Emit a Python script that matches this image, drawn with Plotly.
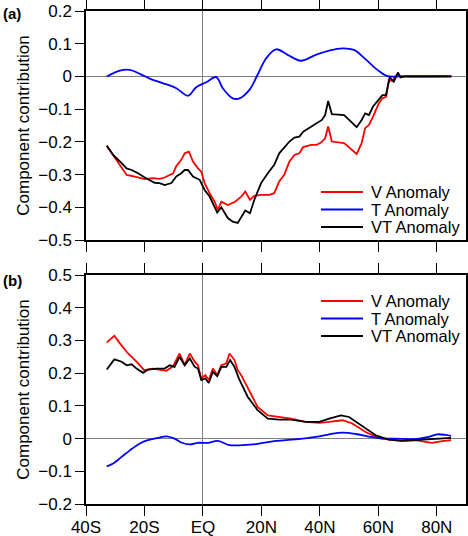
import plotly.graph_objects as go

# latitude in degrees (negative = south)

# panel (a)
a_v_lat = [-32.9, -30.1, -28.4, -26.1, -23.3, -19.9, -17.05, -14.8, -13.1, -11.4,
           -10.2, -9.1, -7.4, -6.25, -4.8, -3.4, -1.7, -0.55, 0.57, 2.3, 4.0, 5.1,
           6.3, 8.5, 11.0, 13.0, 14.5, 16.1, 17.6, 19.9, 22.7, 24.4, 26.1, 27.8,
           29.6, 31.3, 33.0, 34.3, 37.0, 38.9, 40.4, 41.8, 42.85, 44.1, 48.3,
           52.6, 54.3, 55.5, 56.8, 58.2, 60.2, 61.4, 62.7, 63.6, 64.8, 65.9,
           67.1, 85.0]
a_v = [-0.212, -0.250, -0.270, -0.301, -0.306, -0.314, -0.311, -0.313, -0.309, -0.301,
       -0.296, -0.274, -0.255, -0.235, -0.230, -0.260, -0.281, -0.291, -0.326, -0.357,
       -0.383, -0.408, -0.383, -0.393, -0.383, -0.368, -0.352, -0.377, -0.365, -0.362,
       -0.362, -0.357, -0.321, -0.301, -0.260, -0.240, -0.235, -0.216, -0.209, -0.209,
       -0.202, -0.189, -0.153, -0.199, -0.204, -0.237, -0.204, -0.158, -0.148, -0.123,
       -0.082, -0.067, -0.062, -0.011, -0.014, 0.001, 0.0, 0.0]

a_t_lat = [-32.9, -28.4, -25.0, -21.6, -17.6, -13.6, -9.1, -5.1, -2.3, 1.1, 4.55,
           6.8, 10.2, 12.5, 15.9, 18.7, 21.6, 25.0, 29.0, 33.5, 38.6, 43.2, 47.7,
           51.7, 55.7, 59.7, 63.1, 67.0, 85.0]
a_t = [0.0, 0.018, 0.020, 0.008, -0.009, -0.021, -0.036, -0.059, -0.033, -0.018,
       -0.002, -0.036, -0.067, -0.067, -0.041, 0.005, 0.055, 0.083, 0.066, 0.048,
       0.066, 0.079, 0.086, 0.081, 0.052, 0.020, 0.001, 0.0, 0.0]

a_vt_lat = [-32.9, -30.7, -28.4, -26.1, -24.4, -22.2, -19.9, -16.5, -14.8, -13.1,
            -10.8, -9.1, -7.4, -6.25, -5.1, -3.4, -1.1, 0.57, 2.3, 4.0, 4.9, 6.3,
            8.5, 10.2, 11.9, 14.5, 16.1, 17.6, 19.9, 22.2, 24.4, 26.1, 27.8, 29.6,
            31.3, 33.0, 34.3, 36.4, 38.9, 40.7, 41.8, 42.85, 44.1, 48.3, 52.6,
            54.3, 55.5, 56.8, 58.2, 60.2, 61.4, 62.6, 63.9, 65.3, 66.7, 67.6,
            69.0, 85.0]
a_vt = [-0.212, -0.240, -0.260, -0.281, -0.286, -0.296, -0.309, -0.325, -0.326, -0.332,
        -0.326, -0.306, -0.296, -0.286, -0.286, -0.306, -0.316, -0.347, -0.367, -0.398,
        -0.416, -0.400, -0.433, -0.444, -0.448, -0.410, -0.418, -0.377, -0.326, -0.296,
        -0.270, -0.235, -0.219, -0.199, -0.187, -0.184, -0.169, -0.158, -0.143, -0.133,
        -0.118, -0.075, -0.115, -0.118, -0.155, -0.133, -0.113, -0.118, -0.092, -0.070,
        -0.057, -0.057, -0.003, -0.016, 0.012, -0.003, 0.0, 0.0]

# panel (b)
b_v_lat = [-32.9, -30.3, -28.4, -25.6, -22.7, -20.1, -17.05, -12.5, -10.2, -8.0,
           -6.25, -4.5, -2.8, -1.7, -0.55, 0.8, 2.0, 3.4, 4.9, 6.3, 8.0, 9.1, 10.8,
           11.9, 13.1, 15.9, 18.7, 22.2, 26.1, 30.1, 35.2, 39.8, 43.2, 47.7, 51.1,
           55.7, 59.7, 63.6, 68.2, 72.7, 76.1, 78.4, 81.9, 84.9]
b_v = [0.294, 0.314, 0.291, 0.260, 0.235, 0.209, 0.214, 0.207, 0.221, 0.260,
       0.225, 0.260, 0.235, 0.224, 0.184, 0.194, 0.179, 0.214, 0.194, 0.224, 0.230,
       0.260, 0.240, 0.209, 0.194, 0.143, 0.097, 0.071, 0.066, 0.061, 0.051, 0.048,
       0.051, 0.056, 0.046, 0.020, 0.003, -0.003, -0.007, -0.005, -0.010, -0.013,
       -0.008, -0.005]

b_t_lat = [-32.9, -30.7, -27.8, -25.0, -21.6, -18.8, -15.3, -12.5, -9.7, -7.4, -4.5,
           -1.7, 1.7, 5.1, 9.1, 13.6, 18.2, 22.7, 28.4, 34.1, 39.8, 43.2, 47.7, 52.3,
           56.8, 61.4, 65.9, 70.5, 73.9, 77.3, 80.1, 83.0, 84.9]
b_t = [-0.085, -0.076, -0.056, -0.036, -0.015, -0.005, 0.002, 0.007, 0.000, -0.012,
       -0.018, -0.013, -0.013, -0.007, -0.020, -0.020, -0.017, -0.010, -0.005, 0.000,
       0.007, 0.013, 0.018, 0.014, 0.006, 0.000, 0.000, -0.002, 0.000, 0.005, 0.013,
       0.011, 0.008]

b_vt_lat = [-32.9, -30.3, -27.8, -26.1, -24.4, -22.7, -20.5, -18.8, -15.9, -13.1,
            -11.4, -9.7, -8.0, -6.25, -4.5, -2.8, -1.7, -0.55, 0.8, 2.0, 3.4, 4.9,
            6.3, 8.0, 9.3, 10.8, 12.4, 15.3, 18.7, 22.2, 26.1, 30.1, 35.2, 39.8,
            43.2, 47.2, 50.0, 54.0, 59.1, 63.6, 68.2, 72.7, 77.3, 81.9, 84.9]
b_vt = [0.211, 0.242, 0.235, 0.224, 0.227, 0.214, 0.201, 0.211, 0.214, 0.214,
        0.224, 0.219, 0.250, 0.224, 0.245, 0.219, 0.214, 0.179, 0.184, 0.170, 0.204,
        0.191, 0.219, 0.219, 0.240, 0.219, 0.182, 0.128, 0.087, 0.061, 0.058, 0.058,
        0.051, 0.051, 0.061, 0.071, 0.066, 0.041, 0.010, -0.003, -0.007, -0.005,
        -0.003, 0.000, 0.002]

lat_ticks = [-40, -20, 0, 20, 40, 60, 80]
lat_labels = ['40S', '20S', 'EQ', '20N', '40N', '60N', '80N']

series_names = ['V Anomaly', 'T Anomaly', 'VT Anomaly']
series_colors = ['#ff0000', '#0000ff', '#000000']

W, H = 468, 536
ML, MR, MT, MB = 86, 2, 11, 32


# pixel position -> paper coordinates (used for the hand-made legends)
def px(x):
    return (x - ML) / (W - ML - MR)


def py(y):
    return (H - MB - y) / (H - MT - MB)


fig = go.Figure()

panels = [
    ('x', 'y', [(a_v_lat, a_v), (a_t_lat, a_t), (a_vt_lat, a_vt)], 192),
    ('x2', 'y2', [(b_v_lat, b_v), (b_t_lat, b_t), (b_vt_lat, b_vt)], 301),
]
shapes = []
annotations = []
for xa, ya, data, leg_top in panels:
    for i, ((lat, vals), name, col) in enumerate(zip(data, series_names,
                                                     series_colors)):
        fig.add_trace(go.Scatter(
            x=lat, y=vals, mode='lines', name=name, showlegend=False,
            xaxis=xa, yaxis=ya,
            line=dict(color=col, width=1.8,
                      shape='spline' if name == 'T Anomaly' else 'linear')))
        # legend entry: short line + label
        yy = leg_top + i * 17.5
        shapes.append(dict(type='line', xref='paper', yref='paper',
                           x0=px(321), x1=px(363), y0=py(yy), y1=py(yy),
                           line=dict(color=col, width=1.8)))
        annotations.append(dict(text=name, xref='paper', yref='paper',
                                x=px(369), y=py(yy), xanchor='left',
                                yanchor='middle', showarrow=False,
                                font=dict(size=16.5)))

annotations += [
    dict(text='<b>(a)</b>', xref='paper', yref='paper', x=px(1), y=py(13),
         xanchor='left', yanchor='middle', showarrow=False, font=dict(size=15)),
    dict(text='<b>(b)</b>', xref='paper', yref='paper', x=px(1), y=py(280),
         xanchor='left', yanchor='middle', showarrow=False, font=dict(size=15)),
]

axis_common = dict(showline=True, linecolor='black', linewidth=1.5, mirror='ticks',
                   ticks='outside', ticklen=10, tickcolor='black', tickwidth=1,
                   showgrid=False, zeroline=True, zerolinecolor='#808080',
                   zerolinewidth=1, automargin=False,
                   tickfont=dict(size=17, color='black'))

fig.update_layout(
    width=W, height=H,
    margin=dict(l=ML, r=MR, t=MT, b=MB),
    paper_bgcolor='white', plot_bgcolor='white',
    font=dict(family='Liberation Sans, Arial, sans-serif', size=17, color='black'),
    showlegend=False,
    xaxis=dict(axis_common, domain=[0, 1], anchor='y', range=[-40, 90],
               tickvals=lat_ticks, showticklabels=False),
    yaxis=dict(axis_common, domain=[py(240), 1], anchor='x', range=[-0.5, 0.2],
               dtick=0.1, ticklen=9,
               title=dict(text='Component contribution', font=dict(size=17),
                          standoff=4)),
    xaxis2=dict(axis_common, domain=[0, 1], anchor='y2', range=[-40, 90],
                tickvals=lat_ticks, ticktext=lat_labels, ticklabelstandoff=-3),
    yaxis2=dict(axis_common, domain=[0, py(275)], anchor='x2', range=[-0.2, 0.5],
                dtick=0.1, ticklen=9,
                title=dict(text='Component contribution', font=dict(size=17),
                           standoff=4)),
    shapes=shapes,
    annotations=annotations,
)

# the page's default 8px body margin would push the figure out of the window
fig.write_html("out.html",
               config={'displayModeBar': False},
               post_script="document.body.style.margin='0';"
                           "document.body.style.overflow='hidden';")
